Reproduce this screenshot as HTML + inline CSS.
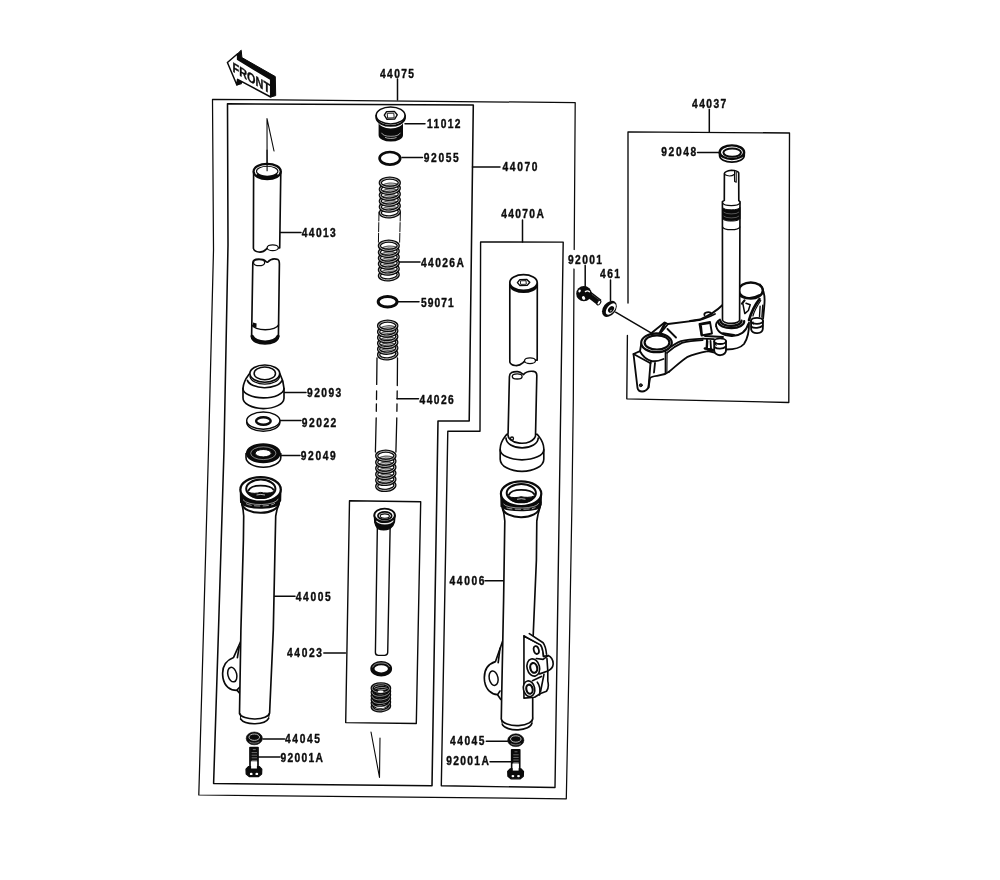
<!DOCTYPE html>
<html lang="en">
<head>
<meta charset="utf-8">
<title>Front Fork - Parts Diagram</title>
<style>
html,body{margin:0;padding:0;background:#fff;}
body{width:1000px;height:880px;overflow:hidden;}
svg{display:block;filter:grayscale(1) blur(0.32px);}
.l{fill:none;stroke:#0a0a0a;stroke-width:1.65;stroke-linecap:round;stroke-linejoin:round;}
.t{fill:none;stroke:#0a0a0a;stroke-width:0.9;stroke-linecap:round;stroke-linejoin:round;}
.k{fill:none;stroke:#0a0a0a;stroke-width:2.2;stroke-linecap:round;stroke-linejoin:round;}
.w{fill:#fff;stroke:#0a0a0a;stroke-width:1.65;stroke-linecap:round;stroke-linejoin:round;}
.b{fill:#0a0a0a;stroke:none;}
text{font-family:"Liberation Sans",sans-serif;font-weight:bold;font-size:11.9px;fill:#0a0a0a;stroke:#0a0a0a;stroke-width:0.38px;stroke-linejoin:round;}
</style>
</head>
<body>
<svg width="1000" height="880" viewBox="0 0 1000 880">
<rect x="0" y="0" width="1000" height="880" fill="#ffffff"/>
<!-- 01_frames.svg -->
<g id="frames" fill="none" stroke="#0a0a0a" stroke-linecap="round" stroke-linejoin="round">
<!-- outer 44075 frame -->
<path stroke-width="1.25" d="M574.2 249.5 L575.2 102.6 L212.5 99.3 L213.5 250 L208.5 450 L203.5 630 L198.8 795 L566.3 798.8 L569.5 640 L572 500 L573.3 400 L574 269"/>
<!-- inner 44070 frame -->
<path stroke-width="1.55" d="M227.5 103.8 L473.3 105 L469.2 421 L438 421 L432 785.8 L213.6 783.6 L218.5 630 L224 450 L228 245 Z"/>
<!-- 44070A frame -->
<path stroke-width="1.4" d="M480.6 242 L563.2 242.1 L555 787.5 L441.3 785.8 L447.8 431.2 L480 431.2 Z"/>
<!-- 44023 frame -->
<path stroke-width="1.4" d="M349.5 500.8 L420.7 501.8 L416.3 723.5 L345.7 722.6 Z"/>
<!-- 44037 frame -->
<path stroke-width="1.35" d="M628 303 L628 131.8 L789.5 133 L788.8 402.5 L626.8 398.8 L627.4 335.5"/>
</g>
<!-- 02_leaders.svg -->
<g id="leaders" class="l" style="stroke-width:1.5">
<path d="M397.5 79 V100"/>
<path d="M405 123.8 H425"/>
<path d="M402 157.5 H422.5"/>
<path d="M472.5 167 H500"/>
<path d="M398.8 262 H420"/>
<path d="M280.5 232.5 H301"/>
<path d="M398 301.8 H419"/>
<path d="M397 398.8 H418.5"/>
<path d="M284.5 392.5 H306"/>
<path d="M279.5 420.5 H301"/>
<path d="M279.5 455.5 H300"/>
<path d="M274.5 596.3 H295"/>
<path d="M323.8 653 H345.5"/>
<path d="M263 739 H284.5"/>
<path d="M258 757 H280"/>
<path d="M522.5 220 V242"/>
<path d="M585.2 265.5 V286.4"/>
<path d="M610.5 280 V300.6"/>
<path d="M485 580.8 H503.8"/>
<path d="M486.3 741.3 H507.5"/>
<path d="M490 761.8 H511.3"/>
<path d="M709.3 109.5 V131.8"/>
<path d="M697.5 152.5 H719.5"/>
<path d="M615.6 312.2 L651 332.8"/>
</g>
<!-- 03_labels.svg -->
<g id="labels" opacity="0.99">
<text transform="translate(380.0 77.5) scale(0.86 1)" textLength="39.5" lengthAdjust="spacing">44075</text>
<text transform="translate(427.0 128.3) scale(0.86 1)" textLength="39.0" lengthAdjust="spacing">11012</text>
<text transform="translate(423.8 162.0) scale(0.86 1)" textLength="40.7" lengthAdjust="spacing">92055</text>
<text transform="translate(502.5 171.0) scale(0.86 1)" textLength="40.7" lengthAdjust="spacing">44070</text>
<text transform="translate(421.0 267.0) scale(0.86 1)" textLength="49.8" lengthAdjust="spacing">44026A</text>
<text transform="translate(301.8 236.7) scale(0.86 1)" textLength="39.5" lengthAdjust="spacing">44013</text>
<text transform="translate(421.0 306.7) scale(0.86 1)" textLength="38.1" lengthAdjust="spacing">59071</text>
<text transform="translate(419.5 403.8) scale(0.86 1)" textLength="39.9" lengthAdjust="spacing">44026</text>
<text transform="translate(307.0 397.3) scale(0.86 1)" textLength="39.9" lengthAdjust="spacing">92093</text>
<text transform="translate(301.8 427.0) scale(0.86 1)" textLength="40.1" lengthAdjust="spacing">92022</text>
<text transform="translate(300.8 460.0) scale(0.86 1)" textLength="40.7" lengthAdjust="spacing">92049</text>
<text transform="translate(295.8 600.8) scale(0.86 1)" textLength="40.7" lengthAdjust="spacing">44005</text>
<text transform="translate(287.0 657.1) scale(0.86 1)" textLength="40.7" lengthAdjust="spacing">44023</text>
<text transform="translate(285.0 743.3) scale(0.86 1)" textLength="40.7" lengthAdjust="spacing">44045</text>
<text transform="translate(280.5 762.0) scale(0.86 1)" textLength="49.4" lengthAdjust="spacing">92001A</text>
<text transform="translate(501.3 217.8) scale(0.86 1)" textLength="49.4" lengthAdjust="spacing">44070A</text>
<text transform="translate(568.0 264.1) scale(0.86 1)" textLength="39.5" lengthAdjust="spacing">92001</text>
<text transform="translate(600.0 278.3) scale(0.86 1)" textLength="23.3" lengthAdjust="spacing">461</text>
<text transform="translate(449.5 584.5) scale(0.86 1)" textLength="40.7" lengthAdjust="spacing">44006</text>
<text transform="translate(450.0 745.3) scale(0.86 1)" textLength="40.1" lengthAdjust="spacing">44045</text>
<text transform="translate(446.3 765.3) scale(0.86 1)" textLength="49.4" lengthAdjust="spacing">92001A</text>
<text transform="translate(692.0 107.8) scale(0.86 1)" textLength="39.9" lengthAdjust="spacing">44037</text>
<text transform="translate(661.3 156.3) scale(0.86 1)" textLength="40.7" lengthAdjust="spacing">92048</text>
</g>
<!-- 05_front.svg -->
<g id="frontArrow">
<!-- 3D depth (black) -->
<path d="M237.6 53.7 L241.2 50.2 L241.9 57.6 L275.3 76.6 L275.7 95.6 L270.7 97 L270.7 79.4 L237.6 59.4 Z" fill="#0a0a0a" stroke="#0a0a0a" stroke-width="1" stroke-linejoin="round"/>
<path d="M237.6 79.4 L236.9 85 L241.2 83.6 L241.8 81.8 Z" fill="#0a0a0a" stroke="#0a0a0a" stroke-width="1.2" stroke-linejoin="round"/>
<!-- front face -->
<path d="M227.4 62.5 L237.6 53.7 L237.6 59.4 L270.7 79.4 L270.7 97 L237.6 79.4 L236.9 85 Z" fill="#fff" stroke="#0a0a0a" stroke-width="1.5" stroke-linejoin="round"/>
<g opacity="0.99"><text transform="translate(232.6 71.2) skewY(31)" textLength="37.5" lengthAdjust="spacingAndGlyphs" style="font-size:13.5px;font-weight:bold;text-rendering:geometricPrecision">FRONT</text></g>
</g>
<!-- 10_center.svg -->
<g id="cap11012">
<path class="b" d="M378.6 122 L378.6 135.2 A12.2 6.4 0 0 0 403 135.2 L403 122 A12.2 6.4 0 0 1 378.6 122 Z"/>
<path d="M381.5 132.8 A9.6 4.4 0 0 0 400.3 132.8" fill="none" stroke="#fff" stroke-width="0.6"/>
<path d="M385 137.3 A7 2.6 0 0 0 396.6 137.4" fill="none" stroke="#fff" stroke-width="0.6"/>
<path class="w" d="M376.2 115.4 L376.4 118.6 A14.4 8.5 0 0 0 404.9 118.6 L405 115.4 Z" style="stroke-width:1.9"/>
<ellipse class="w" cx="390.6" cy="115.4" rx="14.4" ry="8.5" style="stroke-width:1.5"/>
<path class="l" d="M384.3 115.2 L386.6 111.6 L394.4 111.4 L397.2 114.8 L394.8 119 L387 119.3 Z" style="stroke-width:1.4"/>
<path class="t" d="M387.6 113.3 L393.8 113.2 L394.2 117.8 L388 118 Z"/>
</g>
<ellipse cx="389.9" cy="158.3" rx="10.3" ry="6.3" fill="none" stroke="#0a0a0a" stroke-width="2.7"/>
<g id="spr44026A">
<path class="t" d="M379 212 L378.4 243 M400.4 212 L399.6 243" style="stroke-width:1;stroke-dasharray:9 1.6"/>
<g transform="rotate(-5.0 389.8 212.2)"><ellipse cx="389.8" cy="212.2" rx="9.5" ry="4.6" fill="#fff" fill-opacity="0.35" stroke="#0a0a0a" stroke-width="3.30"/>
<ellipse cx="389.8" cy="212.2" rx="9.5" ry="4.6" fill="none" stroke="#e4e4e4" stroke-width="0.75"/></g>
<g transform="rotate(-5.0 389.8 206.4)"><ellipse cx="389.8" cy="206.4" rx="9.5" ry="4.6" fill="#fff" fill-opacity="0.35" stroke="#0a0a0a" stroke-width="3.30"/>
<ellipse cx="389.8" cy="206.4" rx="9.5" ry="4.6" fill="none" stroke="#e4e4e4" stroke-width="0.75"/></g>
<g transform="rotate(-5.0 389.8 200.5)"><ellipse cx="389.8" cy="200.5" rx="9.5" ry="4.6" fill="#fff" fill-opacity="0.35" stroke="#0a0a0a" stroke-width="3.30"/>
<ellipse cx="389.8" cy="200.5" rx="9.5" ry="4.6" fill="none" stroke="#e4e4e4" stroke-width="0.75"/></g>
<g transform="rotate(-5.0 389.8 194.6)"><ellipse cx="389.8" cy="194.6" rx="9.5" ry="4.6" fill="#fff" fill-opacity="0.35" stroke="#0a0a0a" stroke-width="3.30"/>
<ellipse cx="389.8" cy="194.6" rx="9.5" ry="4.6" fill="none" stroke="#e4e4e4" stroke-width="0.75"/></g>
<g transform="rotate(-5.0 389.8 188.7)"><ellipse cx="389.8" cy="188.7" rx="9.5" ry="4.6" fill="#fff" fill-opacity="0.35" stroke="#0a0a0a" stroke-width="3.30"/>
<ellipse cx="389.8" cy="188.7" rx="9.5" ry="4.6" fill="none" stroke="#e4e4e4" stroke-width="0.75"/></g>
<g transform="rotate(0.0 389.8 182.8)"><ellipse cx="389.8" cy="182.8" rx="9.5" ry="4.6" fill="#fff" fill-opacity="0.35" stroke="#0a0a0a" stroke-width="3.30"/>
<ellipse cx="389.8" cy="182.8" rx="9.5" ry="4.6" fill="none" stroke="#e4e4e4" stroke-width="0.75"/></g>
<g transform="rotate(-5.0 388.8 275.2)"><ellipse cx="388.8" cy="275.2" rx="9.4" ry="4.6" fill="#fff" fill-opacity="0.35" stroke="#0a0a0a" stroke-width="3.30"/>
<ellipse cx="388.8" cy="275.2" rx="9.4" ry="4.6" fill="none" stroke="#e4e4e4" stroke-width="0.75"/></g>
<g transform="rotate(-5.0 388.8 269.4)"><ellipse cx="388.8" cy="269.4" rx="9.4" ry="4.6" fill="#fff" fill-opacity="0.35" stroke="#0a0a0a" stroke-width="3.30"/>
<ellipse cx="388.8" cy="269.4" rx="9.4" ry="4.6" fill="none" stroke="#e4e4e4" stroke-width="0.75"/></g>
<g transform="rotate(-5.0 388.8 263.4)"><ellipse cx="388.8" cy="263.4" rx="9.4" ry="4.6" fill="#fff" fill-opacity="0.35" stroke="#0a0a0a" stroke-width="3.30"/>
<ellipse cx="388.8" cy="263.4" rx="9.4" ry="4.6" fill="none" stroke="#e4e4e4" stroke-width="0.75"/></g>
<g transform="rotate(-5.0 388.8 257.6)"><ellipse cx="388.8" cy="257.6" rx="9.4" ry="4.6" fill="#fff" fill-opacity="0.35" stroke="#0a0a0a" stroke-width="3.30"/>
<ellipse cx="388.8" cy="257.6" rx="9.4" ry="4.6" fill="none" stroke="#e4e4e4" stroke-width="0.75"/></g>
<g transform="rotate(-5.0 388.8 251.7)"><ellipse cx="388.8" cy="251.7" rx="9.4" ry="4.6" fill="#fff" fill-opacity="0.35" stroke="#0a0a0a" stroke-width="3.30"/>
<ellipse cx="388.8" cy="251.7" rx="9.4" ry="4.6" fill="none" stroke="#e4e4e4" stroke-width="0.75"/></g>
<g transform="rotate(0.0 388.8 245.8)"><ellipse cx="388.8" cy="245.8" rx="9.4" ry="4.6" fill="#fff" fill-opacity="0.35" stroke="#0a0a0a" stroke-width="3.30"/>
<ellipse cx="388.8" cy="245.8" rx="9.4" ry="4.6" fill="none" stroke="#e4e4e4" stroke-width="0.75"/></g>
</g>
<ellipse cx="387.6" cy="301.8" rx="9.4" ry="5.3" fill="none" stroke="#0a0a0a" stroke-width="3"/>
<g id="spr44026">
<path class="l" d="M377 358 L376.7 384.4 M376.6 391 L376.5 399.5 M376.4 403.8 L376.3 411.3 M376.2 417.8 L375.4 452" style="stroke-width:1.3"/>
<path class="l" d="M397.5 358 L397.3 385.5 M397.2 391 L397.1 398.8 M397 403.8 L396.9 411.3 M396.8 417.8 L395.9 452" style="stroke-width:1.3"/>
<g transform="rotate(-5.0 387.7 354.2)"><ellipse cx="387.7" cy="354.2" rx="9.1" ry="4.6" fill="#fff" fill-opacity="0.35" stroke="#0a0a0a" stroke-width="3.30"/>
<ellipse cx="387.7" cy="354.2" rx="9.1" ry="4.6" fill="none" stroke="#e4e4e4" stroke-width="0.75"/></g>
<g transform="rotate(-5.0 387.7 348.6)"><ellipse cx="387.7" cy="348.6" rx="9.1" ry="4.6" fill="#fff" fill-opacity="0.35" stroke="#0a0a0a" stroke-width="3.30"/>
<ellipse cx="387.7" cy="348.6" rx="9.1" ry="4.6" fill="none" stroke="#e4e4e4" stroke-width="0.75"/></g>
<g transform="rotate(-5.0 387.7 342.9)"><ellipse cx="387.7" cy="342.9" rx="9.1" ry="4.6" fill="#fff" fill-opacity="0.35" stroke="#0a0a0a" stroke-width="3.30"/>
<ellipse cx="387.7" cy="342.9" rx="9.1" ry="4.6" fill="none" stroke="#e4e4e4" stroke-width="0.75"/></g>
<g transform="rotate(-5.0 387.7 337.1)"><ellipse cx="387.7" cy="337.1" rx="9.1" ry="4.6" fill="#fff" fill-opacity="0.35" stroke="#0a0a0a" stroke-width="3.30"/>
<ellipse cx="387.7" cy="337.1" rx="9.1" ry="4.6" fill="none" stroke="#e4e4e4" stroke-width="0.75"/></g>
<g transform="rotate(-5.0 387.7 331.4)"><ellipse cx="387.7" cy="331.4" rx="9.1" ry="4.6" fill="#fff" fill-opacity="0.35" stroke="#0a0a0a" stroke-width="3.30"/>
<ellipse cx="387.7" cy="331.4" rx="9.1" ry="4.6" fill="none" stroke="#e4e4e4" stroke-width="0.75"/></g>
<g transform="rotate(0.0 387.7 325.8)"><ellipse cx="387.7" cy="325.8" rx="9.1" ry="4.6" fill="#fff" fill-opacity="0.35" stroke="#0a0a0a" stroke-width="3.30"/>
<ellipse cx="387.7" cy="325.8" rx="9.1" ry="4.6" fill="none" stroke="#e4e4e4" stroke-width="0.75"/></g>
<g transform="rotate(-5.0 385.8 485.8)"><ellipse cx="385.8" cy="485.8" rx="9.1" ry="4.6" fill="#fff" fill-opacity="0.35" stroke="#0a0a0a" stroke-width="3.30"/>
<ellipse cx="385.8" cy="485.8" rx="9.1" ry="4.6" fill="none" stroke="#e4e4e4" stroke-width="0.75"/></g>
<g transform="rotate(-5.0 385.8 479.8)"><ellipse cx="385.8" cy="479.8" rx="9.1" ry="4.6" fill="#fff" fill-opacity="0.35" stroke="#0a0a0a" stroke-width="3.30"/>
<ellipse cx="385.8" cy="479.8" rx="9.1" ry="4.6" fill="none" stroke="#e4e4e4" stroke-width="0.75"/></g>
<g transform="rotate(-5.0 385.8 473.8)"><ellipse cx="385.8" cy="473.8" rx="9.1" ry="4.6" fill="#fff" fill-opacity="0.35" stroke="#0a0a0a" stroke-width="3.30"/>
<ellipse cx="385.8" cy="473.8" rx="9.1" ry="4.6" fill="none" stroke="#e4e4e4" stroke-width="0.75"/></g>
<g transform="rotate(-5.0 385.8 467.8)"><ellipse cx="385.8" cy="467.8" rx="9.1" ry="4.6" fill="#fff" fill-opacity="0.35" stroke="#0a0a0a" stroke-width="3.30"/>
<ellipse cx="385.8" cy="467.8" rx="9.1" ry="4.6" fill="none" stroke="#e4e4e4" stroke-width="0.75"/></g>
<g transform="rotate(-5.0 385.8 461.8)"><ellipse cx="385.8" cy="461.8" rx="9.1" ry="4.6" fill="#fff" fill-opacity="0.35" stroke="#0a0a0a" stroke-width="3.30"/>
<ellipse cx="385.8" cy="461.8" rx="9.1" ry="4.6" fill="none" stroke="#e4e4e4" stroke-width="0.75"/></g>
<g transform="rotate(0.0 385.8 455.8)"><ellipse cx="385.8" cy="455.8" rx="9.1" ry="4.6" fill="#fff" fill-opacity="0.35" stroke="#0a0a0a" stroke-width="3.30"/>
<ellipse cx="385.8" cy="455.8" rx="9.1" ry="4.6" fill="none" stroke="#e4e4e4" stroke-width="0.75"/></g>
</g>
<!-- 20_left.svg -->
<path class="l" d="M267.1 170.8 L267 118.6 L274 151" style="stroke-width:1.1"/>
<g id="tube44013a">
<path class="w" d="M253.6 171.5 L253.4 248.4 C254.5 252.6 262.5 253.6 266 249.4 C268 247 270 246.6 272 247 L279.7 248 L280.8 171.5 Z"/>
<ellipse cx="272.7" cy="247.7" rx="5.6" ry="2.9" class="w" style="stroke-width:1.2"/>
<ellipse cx="267.2" cy="171.5" rx="13.6" ry="7.7" class="w" style="stroke-width:2.2"/>
<path class="b" d="M255.6 175.6 A13.7 7.8 0 0 0 278.8 175.6 L276.4 173.6 A10.7 5 0 0 1 258 173.6 Z"/>
<ellipse cx="267.2" cy="171.3" rx="10.7" ry="5" class="l" style="stroke-width:1.1"/>
<path class="l" d="M267.1 170.8 L267.05 150" style="stroke-width:1.1"/>
</g>
<g id="tube44013b">
<path class="w" d="M252.8 263.5 C252.6 259 258 258.4 263 259.6 C266 260.6 266 262.6 267.6 262.2 C270 259.5 274 258 278 259.6 C279.4 260.4 279.4 262 279.4 264 L278.4 337 A13.4 7 0 0 1 251.6 337 Z"/>
<ellipse cx="259.1" cy="262.7" rx="5.6" ry="3" class="w" style="stroke-width:1.3"/>
<path class="l" d="M252 325 A13.4 5.6 0 0 0 278.5 325" style="stroke-width:1.5"/>
<path class="k" d="M252.2 336.4 A13.2 7.4 0 0 0 278 336.4" style="stroke-width:3.3"/>
<path class="b" d="M253 322.6 L256.6 323.4 L256.4 327.6 L253 326.6 Z"/>
</g>
<g id="p92093">
<path class="w" d="M243 388.4 L243 397.8 A20.5 10.6 0 0 0 284 398.2 L284 388.4 C283.6 380 281 376 279.5 373 L250 373 C248 376 243.6 380 243 388.4 Z"/>
<path class="l" d="M243 388.4 A20.5 9.4 0 0 0 284 388.6"/>
<ellipse cx="264.8" cy="373.6" rx="14.9" ry="8.6" class="w"/>
<path class="l" d="M247.4 380.4 A17.6 9 0 0 0 281.8 380.8"/>
<path class="l" d="M250 376.6 A14.9 8.6 0 0 0 279.6 376.6" style="stroke-width:1.3"/>
<ellipse cx="264.8" cy="373.4" rx="10.7" ry="6.3" class="l" style="stroke-width:1.5"/>
</g>
<g id="p92022">
<ellipse cx="263.3" cy="422.3" rx="16.6" ry="8.9" class="w" style="stroke-width:1.4"/>
<ellipse cx="263.3" cy="420.6" rx="16.6" ry="8.6" class="w" style="stroke-width:1.4"/>
<ellipse cx="263.4" cy="421" rx="7.3" ry="3.8" class="l" style="stroke-width:2.4"/>
</g>
<g id="p92049">
<path class="w" d="M246 453.5 L246 457.6 A17.4 9.6 0 0 0 280.8 457.6 L280.8 453.5 Z" style="stroke-width:1.6"/>
<ellipse cx="263.3" cy="453.2" rx="16.6" ry="9.2" fill="#0a0a0a" stroke="#0a0a0a" stroke-width="1.6"/>
<ellipse cx="263.3" cy="453.2" rx="12.6" ry="6.4" fill="none" stroke="#fff" stroke-width="0.7" opacity="0.7"/>
<ellipse cx="263.2" cy="453.2" rx="8" ry="3.7" fill="#fff" stroke="#0a0a0a" stroke-width="1"/>
</g>
<g id="tube44005">
<!-- axle lug -->
<path class="w" d="M240.9 641 L233.6 657.4 C224 661 221.6 669 223 678 C224.4 686 230 690.6 237.2 690.4 L240 693.6 L243 693 L243 641 Z"/>
<path class="l" d="M239.2 646.6 L237.4 657.6"/>
<ellipse cx="232.3" cy="674.6" rx="4.4" ry="7.4" class="l" transform="rotate(-14 232.3 674.6)" style="stroke-width:1.5"/>
<path class="l" d="M237 690 L239.6 687.2"/>
<!-- body -->
<path class="w" d="M241 500 L241.9 503.5 L243.1 510 L243.7 516 L243.4 540 L240.9 630 L239.5 713.6 A15.2 6.6 0 0 0 269.6 713 L273.3 630 L274.8 558 L275.7 516 L276.9 510 L279.3 502.3 L280 498 Z"/>
<path class="l" d="M240.6 719 A14.6 7 0 0 0 268.6 718.4"/>
<path class="l" d="M240.2 713.6 L240.8 719.4 M269.4 713 L268.6 718.6" style="stroke-width:1"/>
<g transform="translate(0.0 0.0)">
<path class="w" d="M242 504 A18.5 9.8 0 0 0 278.9 503.4" style="stroke-width:2"/>
<path d="M240.4 489.4 A20.2 12.3 0 0 0 280.8 489.4 L280.5 500.6 L279.4 502 A18.9 5.5 0 0 1 241.7 503 L240.7 502.2 Z" fill="#0a0a0a" stroke="#0a0a0a" stroke-width="1.4" stroke-linejoin="round"/>
<path d="M243 499.6 A17.8 6.2 0 0 0 278.2 498.8" fill="none" stroke="#fff" stroke-width="0.7" opacity="0.8"/>
<path d="M246 503.6 A15 3.6 0 0 0 275 503" fill="none" stroke="#fff" stroke-width="0.8" opacity="0.75" stroke-dasharray="6 2.5"/>
<ellipse cx="260.6" cy="489.4" rx="20.2" ry="12.3" fill="#fff" stroke="#0a0a0a" stroke-width="2.2"/>
<ellipse cx="260.8" cy="488.8" rx="14.6" ry="9.2" fill="#fff" stroke="#0a0a0a" stroke-width="2"/>
<path d="M247.8 492 C250 497.2 256 498.6 260.8 498 C266 498.6 272 497 274 491.6 C270 493.6 264 493.2 260.6 492.4 C257 493.4 252 494 247.8 492 Z" fill="#0a0a0a" stroke="#0a0a0a" stroke-width="1"/>
<path d="M256.5 495 Q260.8 493.8 265 495" fill="none" stroke="#fff" stroke-width="0.9" opacity="0.8"/>
<path class="l" d="M248.4 490.6 C250 486.6 256 485.6 260.6 485.6 C266 485.6 271.6 486.4 273.6 489.8" style="stroke-width:1.9"/>
</g>
</g>
<g>
<ellipse cx="254.3" cy="738.4" rx="8.1" ry="6.4" fill="#0a0a0a" stroke="#0a0a0a" stroke-width="0.6"/>
<ellipse cx="254.3" cy="737.2" rx="5.3" ry="3.2" fill="none" stroke="#c8c8c8" stroke-width="0.9"/>
<path d="M249.3 741.8 a6.4 3.6 0 0 0 10 0" fill="none" stroke="#bbb" stroke-width="0.6"/>
</g>
<g>
<path class="w" d="M250.0 747.6 h8 v21 h-8 Z" style="stroke-width:1.7"/>
<path d="M250.2 747.8 h7.6 v13.6 h-7.6 Z" fill="#0a0a0a"/>
<path d="M252.8 749.6 h3 m-4.2 3 h5.4 m-5.4 2.6 h5.4 m-5.4 2.6 h5.4 m-5.4 2.6 h5.4" stroke="#bbb" stroke-width="0.55" fill="none"/>
<path d="M246.0 769.2 l2.4 -2.6 h11 l2.4 2.6 l-0.2 4.8 l-3 2.6 h-9.4 l-3 -2.6 Z" fill="#0a0a0a" stroke="#0a0a0a" stroke-width="1.2" stroke-linejoin="round"/>
<path class="w" d="M251.1 761.4 h5.8 v7 h-5.8 Z" style="stroke:none"/>
<ellipse cx="251.2" cy="773.9" rx="1.4" ry="1.2" fill="#fff"/>
<ellipse cx="256.8" cy="773.9" rx="1.4" ry="1.2" fill="#fff"/>
</g>
<!-- 30_44023.svg -->
<g id="rod44023">
<path class="w" d="M377.4 524 L375.4 652.6 Q375.4 655.4 378.4 655.4 L384.6 655.4 Q387.6 655.4 387.7 652.6 L390.2 524 Z" style="stroke-width:1.4"/>
<path d="M374.4 515.4 L374.8 522.4 Q375.6 526 377.8 528.6 Q383.6 531 389.8 528.6 Q393.4 526 394.4 522 L395 515.4 Z" fill="#0a0a0a" stroke="#0a0a0a" stroke-width="1.4" stroke-linejoin="round"/>
<path d="M376.4 520.6 A8.8 4.6 0 0 0 393.2 520.4" fill="none" stroke="#fff" stroke-width="1.3" opacity="0.9"/>
<ellipse cx="384.6" cy="515.2" rx="10.3" ry="6.6" class="w" style="stroke-width:1.9"/>
<ellipse cx="384.8" cy="515.7" rx="6.9" ry="3.9" class="l" style="stroke-width:1.7"/>
<ellipse cx="384.8" cy="516.1" rx="4.6" ry="2.2" class="l" style="stroke-width:1.1"/>
</g>
<g id="ring44023">
<ellipse cx="381.2" cy="668.8" rx="8.8" ry="5.7" fill="none" stroke="#0a0a0a" stroke-width="4.2"/>
<path d="M372.6 667.4 A8.8 5.7 0 0 1 389.6 667" fill="none" stroke="#fff" stroke-width="0.7" opacity="0.75"/>
</g>
<g id="spr44023">
<g transform="rotate(-5.0 380.9 706.4)"><ellipse cx="380.9" cy="706.4" rx="8.7" ry="4.4" fill="#fff" fill-opacity="0.00" stroke="#0a0a0a" stroke-width="3.30"/>
<ellipse cx="380.9" cy="706.4" rx="8.7" ry="4.4" fill="none" stroke="#e4e4e4" stroke-width="0.55"/></g>
<g transform="rotate(-5.0 380.9 702.7)"><ellipse cx="380.9" cy="702.7" rx="8.7" ry="4.4" fill="#fff" fill-opacity="0.00" stroke="#0a0a0a" stroke-width="3.30"/>
<ellipse cx="380.9" cy="702.7" rx="8.7" ry="4.4" fill="none" stroke="#e4e4e4" stroke-width="0.55"/></g>
<g transform="rotate(-5.0 380.9 699.1)"><ellipse cx="380.9" cy="699.1" rx="8.7" ry="4.4" fill="#fff" fill-opacity="0.00" stroke="#0a0a0a" stroke-width="3.30"/>
<ellipse cx="380.9" cy="699.1" rx="8.7" ry="4.4" fill="none" stroke="#e4e4e4" stroke-width="0.55"/></g>
<g transform="rotate(-5.0 380.9 695.5)"><ellipse cx="380.9" cy="695.5" rx="8.7" ry="4.4" fill="#fff" fill-opacity="0.00" stroke="#0a0a0a" stroke-width="3.30"/>
<ellipse cx="380.9" cy="695.5" rx="8.7" ry="4.4" fill="none" stroke="#e4e4e4" stroke-width="0.55"/></g>
<g transform="rotate(-5.0 380.9 691.9)"><ellipse cx="380.9" cy="691.9" rx="8.7" ry="4.4" fill="#fff" fill-opacity="0.00" stroke="#0a0a0a" stroke-width="3.30"/>
<ellipse cx="380.9" cy="691.9" rx="8.7" ry="4.4" fill="none" stroke="#e4e4e4" stroke-width="0.55"/></g>
<g transform="rotate(0.0 380.9 688.2)"><ellipse cx="380.9" cy="688.2" rx="8.7" ry="4.4" fill="#fff" fill-opacity="0.00" stroke="#0a0a0a" stroke-width="3.30"/>
<ellipse cx="380.9" cy="688.2" rx="8.7" ry="4.4" fill="none" stroke="#e4e4e4" stroke-width="0.55"/></g>
<ellipse cx="380.6" cy="691.6" rx="3" ry="1.2" fill="#fff"/><path d="M374.6 706.2 A6.6 3.4 0 0 0 387 705.4 A7 2.2 0 0 1 374.6 706.2 Z" fill="#fff"/>
</g>
<path class="l" d="M371 732 L379.5 777.4 L380 738" style="stroke-width:1.1"/>
<!-- 40_right.svg -->
<g id="tube44070Aa">
<path class="w" d="M509.8 282.5 L509.8 362 C511 366 518.6 367 522.4 363.2 C524.4 361 526 359.8 529 359.8 L537.2 360.2 L537.3 282.5 Z"/>
<ellipse cx="530" cy="360.7" rx="5.5" ry="2.9" class="w" style="stroke-width:1.3"/>
<path class="k" d="M510.4 285.5 A13.4 7.6 0 0 0 536.8 285.5" style="stroke-width:2.6"/>
<ellipse cx="523.5" cy="282.5" rx="13.7" ry="7.8" class="w" style="stroke-width:1.7"/>
<path class="l" d="M517.4 282.6 L519.8 279.6 L526.6 279.4 L529.8 282.2 L527.2 285.4 L520 285.6 Z" style="stroke-width:1.4"/>
<path class="t" d="M520.8 280.8 L526 280.7 L526.3 284.3 L521 284.4 Z"/>
</g>
<g id="seal44070A">
<path class="w" d="M500.2 448.6 L500.2 459.2 A21.8 12.2 0 0 0 543.8 459.2 L543.8 448.6 C543.6 441 539 437 537.2 434.2 L506.8 434.2 C505 437 500.4 441 500.2 448.6 Z"/>
<path class="l" d="M500.2 449.8 A21.8 10 0 0 0 543.8 449.8"/>
<path class="l" d="M506 438 A16 9.8 0 0 0 538.2 438"/>
</g>
<g id="tube44070Ab">
<path class="w" d="M509.4 377 C509.2 372.6 513 371.4 517.6 371.6 C521.4 371.8 522.2 374 523.4 374.6 C525.6 372 529 370.8 533.4 371.4 C536.4 371.8 536.9 373.6 536.8 376 L535.5 436 A13.7 8.6 0 0 1 508.1 433 Z"/>
<ellipse cx="517.2" cy="376.4" rx="4.9" ry="2.6" class="w" style="stroke-width:1.3"/>
<ellipse cx="512" cy="438.6" rx="1.5" ry="1.6" class="l" style="stroke-width:1.3"/>
</g>
<g id="tube44006">
<!-- left lug -->
<path class="w" d="M502.7 641 L495.5 661.6 C486 664.6 483.4 672 484.6 681.4 C486 690 491.6 694.4 497.4 694.6 L500.8 699.4 L505 699 L505 641 Z"/>
<path class="l" d="M500 648.4 L498.2 662.6"/>
<ellipse cx="493.6" cy="678.2" rx="4.4" ry="7.3" class="l" transform="rotate(-12 493.6 678.2)" style="stroke-width:1.5"/>
<path class="l" d="M497.6 694.6 L500 691"/>
<!-- body -->
<path class="w" d="M501.9 505 L502.8 508 L504 514.4 L504.8 521 L503.6 600 L501.6 700 L501.3 719 A15.7 7.4 0 0 0 532.7 717.4 L532.7 690 L533 640 L536.4 560 L536.8 521 L538 514.4 L540.2 506.6 L540.8 502 Z"/>
<path class="l" d="M502.4 724.6 A15 7.2 0 0 0 531.8 723.4"/>
<path class="l" d="M501.4 719 L502.4 725 M532.6 717.6 L531.8 723.6" style="stroke-width:1"/>
<g transform="translate(260.5 4.3)">
<path class="w" d="M242 504 A18.5 9.8 0 0 0 278.9 503.4" style="stroke-width:2"/>
<path d="M240.4 489.4 A20.2 12.3 0 0 0 280.8 489.4 L280.5 500.6 L279.4 502 A18.9 3.8 0 0 1 241.7 503 L240.7 502.2 Z" fill="#0a0a0a" stroke="#0a0a0a" stroke-width="1.4" stroke-linejoin="round"/>
<path d="M243 499.6 A17.8 5.2 0 0 0 278.2 498.8" fill="none" stroke="#fff" stroke-width="0.7" opacity="0.8"/>
<path d="M246 503.6 A15 2.2 0 0 0 275 503" fill="none" stroke="#fff" stroke-width="0.8" opacity="0.75" stroke-dasharray="6 2.5"/>
<ellipse cx="260.6" cy="489.4" rx="20.2" ry="12.3" fill="#fff" stroke="#0a0a0a" stroke-width="2.2"/>
<ellipse cx="260.8" cy="488.8" rx="14.6" ry="9.2" fill="#fff" stroke="#0a0a0a" stroke-width="2"/>
<path d="M247.8 492 C250 497.2 256 498.6 260.8 498 C266 498.6 272 497 274 491.6 C270 493.6 264 493.2 260.6 492.4 C257 493.4 252 494 247.8 492 Z" fill="#0a0a0a" stroke="#0a0a0a" stroke-width="1"/>
<path d="M256.5 495 Q260.8 493.8 265 495" fill="none" stroke="#fff" stroke-width="0.9" opacity="0.8"/>
<path class="l" d="M248.4 490.6 C250 486.6 256 485.6 260.6 485.6 C266 485.6 271.6 486.4 273.6 489.8" style="stroke-width:1.9"/>
</g>
</g>
<g id="caliper44006" transform="translate(515 630) scale(0.08518)" fill="none" stroke="#0a0a0a" stroke-width="19" stroke-linecap="round" stroke-linejoin="round">
<path d="M105 70 L300 175 C320 200 330 250 335 310 L390 300 C420 310 450 350 448 400 C445 440 430 460 385 480 L385 600 C395 640 392 690 370 720 L300 745 L230 790 L105 800 Z" fill="#fff"/>
<path d="M120 70 L168 42 L330 150 C355 185 365 230 370 285 L335 300 L300 175 Z" fill="#fff" stroke="none"/>
<path d="M168 42 L330 150 C355 185 365 230 370 285"/>
<path d="M105 70 L300 175 C320 200 330 250 335 310"/>
<ellipse cx="250" cy="235" rx="29" ry="47" transform="rotate(-15 250 235)" stroke-width="21"/>
<path d="M250 335 L330 345 L390 300"/>
<path d="M375 335 L385 480 L290 515"/>
<path d="M205 595 L310 545 M340 520 L300 722"/>
<path d="M262 612 C292 650 300 700 288 762"/>
<ellipse cx="215" cy="440" rx="73" ry="103" transform="rotate(-14 215 440)" fill="#fff"/>
<ellipse cx="220" cy="445" rx="40" ry="58" transform="rotate(-14 220 445)" stroke-width="25"/>
<ellipse cx="165" cy="690" rx="66" ry="93" transform="rotate(-12 165 690)" fill="#fff"/>
<ellipse cx="170" cy="695" rx="37" ry="54" transform="rotate(-12 170 695)" stroke-width="25"/>
</g>
<g>
<ellipse cx="515.8" cy="740.2" rx="8.1" ry="6.4" fill="#0a0a0a" stroke="#0a0a0a" stroke-width="0.6"/>
<ellipse cx="515.8" cy="739.0" rx="5.3" ry="3.2" fill="none" stroke="#c8c8c8" stroke-width="0.9"/>
<path d="M510.8 743.6 a6.4 3.6 0 0 0 10 0" fill="none" stroke="#bbb" stroke-width="0.6"/>
</g>
<g>
<path class="w" d="M511.7 749.8 h8 v21 h-8 Z" style="stroke-width:1.7"/>
<path d="M511.9 750.0 h7.6 v13.6 h-7.6 Z" fill="#0a0a0a"/>
<path d="M514.5 751.8 h3 m-4.2 3 h5.4 m-5.4 2.6 h5.4 m-5.4 2.6 h5.4 m-5.4 2.6 h5.4" stroke="#bbb" stroke-width="0.55" fill="none"/>
<path d="M507.7 771.4 l2.4 -2.6 h11 l2.4 2.6 l-0.2 4.8 l-3 2.6 h-9.4 l-3 -2.6 Z" fill="#0a0a0a" stroke="#0a0a0a" stroke-width="1.2" stroke-linejoin="round"/>
<path class="w" d="M512.8 763.6 h5.8 v7 h-5.8 Z" style="stroke:none"/>
<ellipse cx="512.9" cy="776.1" rx="1.4" ry="1.2" fill="#fff"/>
<ellipse cx="518.5" cy="776.1" rx="1.4" ry="1.2" fill="#fff"/>
</g>
<!-- 50_stem.svg -->
<g id="p92048">
<path class="w" d="M719.6 152.6 L719.6 155.6 A12.3 6.6 0 0 0 744.2 155.6 L744.2 152.6 Z" style="stroke-width:1.8"/>
<ellipse cx="731.9" cy="152.2" rx="12.2" ry="6.8" class="w" style="stroke-width:2.4"/>
<ellipse cx="732.2" cy="152.6" rx="8.8" ry="4.2" class="l" style="stroke-width:2"/>
</g>
<g id="bolt92001">
<path d="M588 293.6 L599.4 302.4" stroke="#0a0a0a" stroke-width="6.6" stroke-linecap="butt" fill="none"/>
<path d="M590.4 293.2 L599.6 300.2" stroke="#fff" stroke-width="0.7" stroke-dasharray="1.1 1.5" fill="none" opacity="0.7"/>
<ellipse cx="598.9" cy="302.6" rx="1.5" ry="2.6" transform="rotate(36 598.9 302.6)" fill="#fff" stroke="#0a0a0a" stroke-width="1.1"/>
<ellipse cx="583.9" cy="293.7" rx="7.7" ry="7.6" fill="#0a0a0a"/>
<ellipse cx="579.6" cy="291" rx="1.1" ry="1.5" transform="rotate(35 579.6 291)" fill="#fff"/>
<path d="M585.4 291.6 Q587.6 290 589.4 291.8" stroke="#fff" stroke-width="1.3" fill="none" stroke-linecap="round"/>
<ellipse cx="583.6" cy="297.9" rx="1.5" ry="2" transform="rotate(-30 583.6 297.9)" fill="#fff"/>
</g>
<g id="washer461" transform="translate(609.4 308.9) rotate(-52)">
<ellipse cx="0" cy="0" rx="9" ry="6.2" fill="#0a0a0a"/>
<ellipse cx="0.8" cy="1.2" rx="6.7" ry="3.7" fill="#fff"/>
<ellipse cx="0.6" cy="1.6" rx="3.7" ry="2.5" fill="#0a0a0a"/>
<ellipse cx="-0.4" cy="2.2" rx="1" ry="0.6" fill="#fff" opacity="0.8"/>
</g>
<!-- 60_clamp.svg -->
<g id="clampL" transform="translate(625 314) scale(0.1)" fill="none" stroke="#0a0a0a" stroke-width="18.5" stroke-linecap="round" stroke-linejoin="round">
<!-- arm top edge & slot -->
<path d="M430 100 L740 62 C790 50 850 25 900 0"/>
<path d="M265 190 L395 85 L430 100 L352 195"/>
<path d="M402 92 L346 196" stroke-width="26"/>
<path d="M425 150 L510 235"/>
<!-- arm top-surface lower edge (double) -->
<path d="M405 365 C440 340 500 295 560 272 C620 255 700 250 780 246" stroke-width="18"/>
<path d="M420 388 C460 350 520 310 570 288 C640 270 720 265 775 262"/>
<!-- arm bottom edge -->
<path d="M440 578 C500 530 560 470 620 432 C680 405 760 385 830 372 L895 385"/>
<!-- square window -->
<path d="M745 100 L850 80 L870 195 L765 215 Z"/>
<path d="M758 112 L768 205 M752 104 L848 90" stroke-width="22"/>
<!-- lines near middle pinch bolt -->
<path d="M820 250 L815 340 M855 270 L860 350 M795 345 L865 355"/>
<!-- cylinder wall, bracket -->
<path d="M162 300 L150 372 L85 400 L125 740 C135 785 200 790 235 735 L250 640 C265 625 290 622 320 618 L400 600 L440 578"/>
<path d="M150 372 C175 420 215 455 262 470 C300 478 350 465 385 450"/>
<path d="M85 400 L255 492 L235 735"/>
<path d="M255 492 L262 470"/>
<path d="M300 490 L290 585"/>
<path d="M405 365 L405 595" stroke-width="17"/>
<path d="M421 388 L419 580" stroke-width="11"/>
<!-- ring -->
<ellipse cx="315" cy="288" rx="153" ry="94" fill="#fff" stroke-width="22"/>
<ellipse cx="320" cy="284" rx="124" ry="71" fill="#fff" stroke-width="22"/>
<!-- small hole -->
<circle cx="158" cy="712" r="15" fill="#0a0a0a" stroke-width="9"/>
<circle cx="158" cy="712" r="6" fill="#555" stroke="none"/>
</g>
<g id="clampR" transform="translate(690 280) scale(0.1)" fill="none" stroke="#0a0a0a" stroke-width="18.5" stroke-linecap="round" stroke-linejoin="round">
<!-- right fork clamp -->
<path d="M700 46 C730 80 748 150 746 200 C745 260 737 320 731 385"/>
<path d="M695 191 C660 235 620 300 590 400" stroke-width="26"/>
<path d="M707 205 C680 245 645 305 629 360" stroke-width="13"/>
<path d="M728 251 L719 370 M701 263 L695 366" stroke-width="14"/>
<path d="M529 239 L548 336 L584 305 L602 248 L560 232" stroke-width="15"/><path d="M520 236 L545 204" stroke-width="22"/>
<ellipse cx="608" cy="105" rx="120" ry="80" fill="#fff" stroke-width="24"/>
<path d="M500 160 C540 188 620 192 692 150"/>
<!-- arm top edge + bump -->
<path d="M0 410 L100 395 C170 365 260 315 325 250"/>
<path d="M145 352 A35 22 0 0 1 215 338"/>
<!-- boss -->
<path d="M262 462 C255 440 270 415 300 395"/>
<path d="M262 462 C275 520 340 562 420 560 C500 556 560 520 582 440"/>
<path d="M330 532 L440 550" stroke-width="20"/>
<path d="M590 425 C592 500 580 580 540 640 C500 685 440 695 365 695"/>
<!-- lower edge lines -->
<path d="M130 586 L240 592" stroke-width="18"/>
<path d="M150 560 L330 570"/>
<path d="M175 612 L170 680 M150 685 L240 700"/>
<path d="M180 712 L240 702"/>
</g>
<g id="stem">
<path class="w" d="M724.4 173.4 Q725 171 731.4 170.2 Q737.6 170.4 738.7 172.8 L738.8 200.6 L740 201.6 L739.6 319.6 A8.5 3.6 0 0 1 722.5 320 L722.4 201.6 L724.3 200.4 Z"/>
<path class="l" d="M724.6 174.6 Q730 177.6 734.6 174.2 L734.6 170.8" style="stroke-width:1.2"/>
<path class="l" d="M734.4 174.4 L734.6 181.6 L736.2 182.2 L736.2 172" style="stroke-width:1.1"/>
<path class="l" d="M722.6 203 A8.8 3.2 0 0 0 739.9 203" style="stroke-width:1.3"/>
<path d="M722.6 207.4 A8.8 3 0 0 0 739.9 207.4 L739.9 218.6 A8.8 3 0 0 1 722.6 218.6 Z" fill="#0a0a0a" stroke="#0a0a0a" stroke-width="1"/>
<path d="M723.6 212 A8 2.6 0 0 0 739 212 M723.6 216 A8 2.6 0 0 0 739 216" fill="none" stroke="#fff" stroke-width="0.5" opacity="0.6"/>
<path class="l" d="M722.5 227 A8.8 3.2 0 0 0 739.9 227" style="stroke-width:1.3"/>
</g>
<g id="clampR2" transform="translate(690 280) scale(0.1)" fill="none" stroke="#0a0a0a" stroke-width="18.5" stroke-linecap="round" stroke-linejoin="round">
<!-- rings around stem base -->
<path d="M305 410 A105 50 0 0 0 515 408" stroke-width="24"/>
<path d="M282 418 A130 66 0 0 0 542 412" stroke-width="22"/>
<!-- middle pinch bolt -->
<path d="M242 612 L242 708 A59 48 0 0 0 360 700 L360 612 Z" fill="#fff"/>
<ellipse cx="301" cy="612" rx="59" ry="28" fill="#fff"/>
<path d="M248 672 C270 692 330 692 356 668"/>
<path d="M262 628 C252 636 252 648 264 652" stroke-width="11"/>
<!-- right pinch bolt -->
<path d="M610 410 L612 498 A59 45 0 0 0 728 490 L730 410 Z" fill="#fff"/>
<ellipse cx="670" cy="408" rx="60" ry="30" fill="#fff"/>
<path d="M614 468 C640 486 700 482 726 458"/>
<path d="M632 420 C622 428 622 438 634 442" stroke-width="11"/>
</g>
</svg>
</body>
</html>
